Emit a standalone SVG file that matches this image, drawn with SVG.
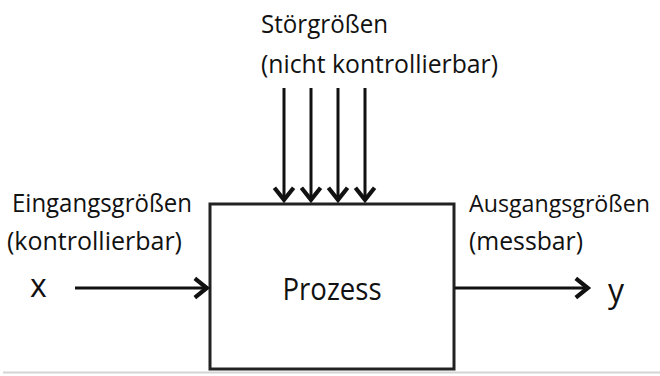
<svg xmlns="http://www.w3.org/2000/svg" width="660" height="376" viewBox="0 0 660 376">
<defs>
<style>
.t{font-family:"Open Sans","Noto Sans","Liberation Sans",sans-serif;fill:#111;}
.lbl{font-size:25px;}
.var{font-size:32px;}
.edge{stroke:#111;stroke-width:3;fill:none;}
</style>
<marker id="ah" markerUnits="userSpaceOnUse" markerWidth="24" markerHeight="24" viewBox="-14 -10 16 20" refX="0" refY="0" orient="auto">
<path d="M-11,-8 L-1,0 L-11,8" fill="none" stroke="#111" stroke-width="3.5" stroke-linejoin="miter"/>
</marker>
</defs>
<rect width="660" height="376" fill="#fff"/>
<line x1="3" y1="372.5" x2="660" y2="372.5" stroke="#d4d4d4" stroke-width="2"/>
<g id="process">
<rect x="210" y="204" width="244" height="165" fill="#fff" stroke="#222" stroke-width="3"/>
<text class="t" x="332" y="300" font-size="31" text-anchor="middle" textLength="99" lengthAdjust="spacingAndGlyphs">Prozess</text>
</g>
<g id="stoergroessen">
<text class="t lbl" x="261" y="33" textLength="127" lengthAdjust="spacingAndGlyphs">Störgrößen</text>
<text class="t lbl" x="261" y="73" textLength="237" lengthAdjust="spacingAndGlyphs">(nicht kontrollierbar)</text>
</g>
<g id="eingang">
<text class="t lbl" x="12" y="212" textLength="180" lengthAdjust="spacingAndGlyphs">Eingangsgrößen</text>
<text class="t lbl" x="7" y="250" textLength="175" lengthAdjust="spacingAndGlyphs">(kontrollierbar)</text>
<text class="t var" x="30" y="297">x</text>
</g>
<g id="ausgang">
<text class="t" x="469" y="212" font-size="23.5" textLength="181" lengthAdjust="spacingAndGlyphs">Ausgangsgrößen</text>
<text class="t lbl" x="469" y="250" textLength="114" lengthAdjust="spacingAndGlyphs">(messbar)</text>
<text class="t var" x="608" y="302">y</text>
</g>
<g id="connectors">
<line class="edge" x1="284" y1="88" x2="284" y2="201" marker-end="url(#ah)"/>
<line class="edge" x1="311" y1="88" x2="311" y2="201" marker-end="url(#ah)"/>
<line class="edge" x1="338" y1="88" x2="338" y2="201" marker-end="url(#ah)"/>
<line class="edge" x1="365" y1="88" x2="365" y2="201" marker-end="url(#ah)"/>
<line class="edge" x1="75" y1="288" x2="208" y2="288" marker-end="url(#ah)"/>
<line class="edge" x1="455" y1="288" x2="589" y2="288" marker-end="url(#ah)"/>
</g>
</svg>
